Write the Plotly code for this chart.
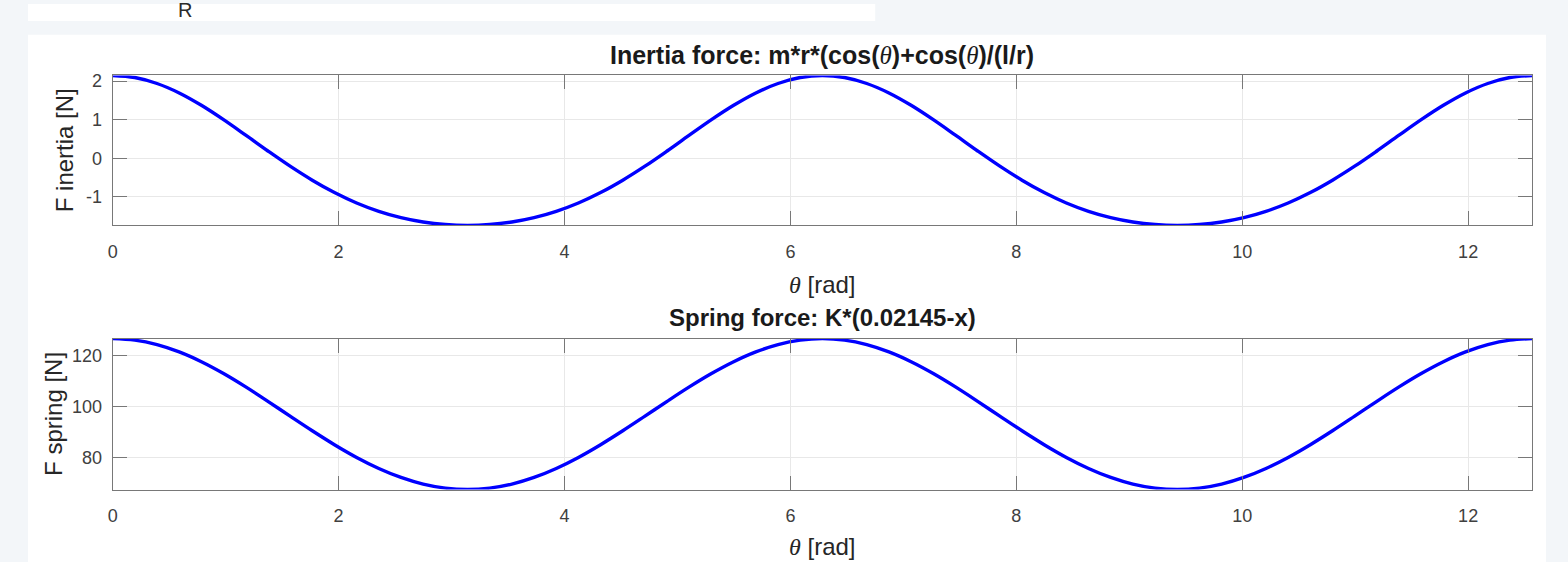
import plotly.graph_objects as go
from plotly.subplots import make_subplots

# ---------------- data ----------------
theta = [0.0, 0.1963, 0.3927, 0.5890, 0.7854, 0.9817, 1.1781, 1.3744, 1.5708,
         1.7671, 1.9635, 2.1598, 2.3562, 2.5525, 2.7489, 2.9452, 3.1416,
         3.3379, 3.5343, 3.7306, 3.9270, 4.1233, 4.3197, 4.5160, 4.7124,
         4.9087, 5.1051, 5.3014, 5.4978, 5.6941, 5.8905, 6.0868, 6.2832,
         6.4795, 6.6759, 6.8722, 7.0686, 7.2649, 7.4613, 7.6576, 7.8540,
         8.0503, 8.2467, 8.4430, 8.6394, 8.8357, 9.0321, 9.2284, 9.4248,
         9.6211, 9.8175, 10.0138, 10.2102, 10.4065, 10.6029, 10.7992, 10.9956,
         11.1919, 11.3883, 11.5846, 11.7810, 11.9773, 12.1737, 12.3700, 12.5664]

f_inertia = [2.146, 2.093, 1.938, 1.693, 1.373, 1.001, 0.599, 0.190, -0.204,
             -0.567, -0.887, -1.157, -1.373, -1.537, -1.650, -1.716, -1.738,
             -1.716, -1.650, -1.537, -1.373, -1.157, -0.887, -0.567, -0.204,
             0.190, 0.599, 1.001, 1.373, 1.693, 1.938, 2.093, 2.146,
             2.093, 1.938, 1.693, 1.373, 1.001, 0.599, 0.190, -0.204,
             -0.567, -0.887, -1.157, -1.373, -1.537, -1.650, -1.716, -1.738,
             -1.716, -1.650, -1.537, -1.373, -1.157, -0.887, -0.567, -0.204,
             0.190, 0.599, 1.001, 1.373, 1.693, 1.938, 2.093, 2.146]

f_spring = [126.5, 125.90, 124.14, 121.29, 117.47, 112.86, 107.64, 102.03, 96.25,
            90.54, 85.10, 80.13, 75.83, 72.32, 69.72, 68.14, 67.6,
            68.14, 69.72, 72.32, 75.83, 80.13, 85.10, 90.54, 96.25,
            102.03, 107.64, 112.86, 117.47, 121.29, 124.14, 125.90, 126.5,
            125.90, 124.14, 121.29, 117.47, 112.86, 107.64, 102.03, 96.25,
            90.54, 85.10, 80.13, 75.83, 72.32, 69.72, 68.14, 67.6,
            68.14, 69.72, 72.32, 75.83, 80.13, 85.10, 90.54, 96.25,
            102.03, 107.64, 112.86, 117.47, 121.29, 124.14, 125.90, 126.5]

x_ticks = [0, 2, 4, 6, 8, 10, 12]
x_ticktext = ["0", "2", "4", "6", "8", "10", "12"]
y1_ticks = [-1, 0, 1, 2]
y1_ticktext = ["-1", "0", "1", "2"]
y2_ticks = [80, 100, 120]
y2_ticktext = ["80", "100", "120"]

TH = "<span style='font-family:Liberation Serif;font-style:italic;font-weight:normal'>θ</span>"
title_top = "<b>Inertia force: m*r*(cos(" + TH + ")+cos(" + TH + ")/(l/r)</b>"
title_bot = "<b>Spring force: K*(0.02145-x)</b>"
xlabel = TH + " [rad]"
ylabel_top = "F inertia [N]"
ylabel_bot = "F spring [N]"

# ---------------- layout helpers ----------------
W, H = 1568, 562
def px(x):
    return x / W
def py(y):
    return 1 - y / H

fig = make_subplots(rows=2, cols=1)

line = dict(color="#0000ff", width=3.4, shape="spline")
fig.add_trace(go.Scatter(x=theta, y=f_inertia, mode="lines", line=line), row=1, col=1)
fig.add_trace(go.Scatter(x=theta, y=f_spring, mode="lines", line=line), row=2, col=1)

axis_common = dict(
    showline=True, linecolor="#787878", linewidth=1, mirror="ticks",
    ticks="inside", ticklen=14, tickcolor="#787878", tickwidth=1,
    showgrid=True, gridcolor="#e8e8e8", gridwidth=1, zeroline=False,
    tickfont=dict(family="Liberation Sans, Arial", size=18, color="#404040"),
)

fig.update_xaxes(**axis_common, range=[0, 12.5664], tickvals=x_ticks,
                 ticktext=x_ticktext, domain=[px(108), px(1532)],
                 ticklabelstandoff=10)
fig.update_yaxes(**axis_common, ticklabelstandoff=6)
fig.update_yaxes(range=[-1.738, 2.146], tickvals=y1_ticks, ticktext=y1_ticktext,
                 domain=[py(223), py(72)], row=1, col=1)
fig.update_yaxes(range=[67.6, 126.5], tickvals=y2_ticks, ticktext=y2_ticktext,
                 domain=[py(489), py(337)], row=2, col=1)

shapes = [
    dict(type="rect", xref="paper", yref="paper", x0=px(23), x1=px(873),
         y0=py(17), y1=1, fillcolor="white", line=dict(width=0), layer="below"),
    dict(type="rect", xref="paper", yref="paper", x0=px(23), x1=px(1546),
         y0=0, y1=py(31), fillcolor="white", line=dict(width=0), layer="below"),
]

tfont_top = dict(family="Liberation Sans, Arial", size=25, color="#1a1a1a")
tfont_bot = dict(family="Liberation Sans, Arial", size=24, color="#1a1a1a")
lfont = dict(family="Liberation Sans, Arial", size=24, color="#262626")

def ann(text, x, y, font, angle=0):
    return dict(text=text, x=px(x), y=py(y), xref="paper", yref="paper",
                xanchor="center", yanchor="middle", showarrow=False,
                textangle=angle, font=font)

annotations = [
    ann(title_top, 820, 51, tfont_top),
    ann(title_bot, 820, 316, tfont_bot),
    ann(xlabel, 820, 283, lfont),
    ann(xlabel, 820, 546, lfont),
    ann(ylabel_top, 60, 147.5, lfont, -90),
    ann(ylabel_bot, 48, 413, lfont, -90),
    ann("R", 181, 6, dict(family="Liberation Sans, Arial", size=20, color="#2a2a2a")),
]

fig.update_layout(
    width=W, height=H, margin=dict(l=0, r=0, t=0, b=0, pad=0),
    paper_bgcolor="#f3f6f9", plot_bgcolor="white", showlegend=False,
    shapes=shapes, annotations=annotations,
)

fig.write_html("out.html")
